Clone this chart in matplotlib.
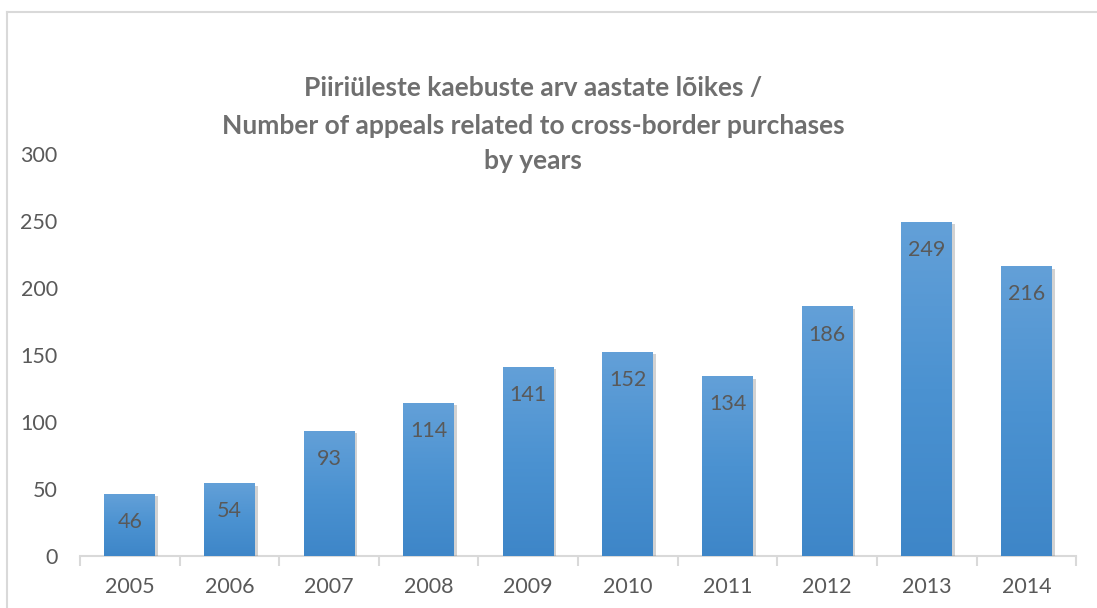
import numpy as np
import matplotlib
matplotlib.use("Agg")
import matplotlib.pyplot as plt
import matplotlib.patheffects as pe
from matplotlib.colors import LinearSegmentedColormap
from matplotlib.lines import Line2D

# Data
years = ["2005", "2006", "2007", "2008", "2009", "2010", "2011", "2012", "2013", "2014"]
appeals = [46, 54, 93, 114, 141, 152, 134, 186, 249, 216]
y_ticks = [0, 50, 100, 150, 200, 250, 300]
title_lines = [
    "Piiriüleste kaebuste arv aastate lõikes /",
    "Number of appeals related to cross-border purchases",
    "by years",
]

TEXT = "#595959"
AXIS = "#d9d9d9"
plt.rcParams["font.family"] = ["Lato", "DejaVu Sans"]

fig = plt.figure(figsize=(10.97, 6.08), dpi=100)
ax = fig.add_axes([0.0729, 0.0855, 0.9081, 0.6612])

x = np.arange(len(years))
width = 0.51

# bars with soft shadow
bars = ax.bar(x, appeals, width=width, color="#4f94d2", zorder=2)
for b in bars:
    b.set_path_effects([pe.SimplePatchShadow(offset=(2, -1.5), shadow_rgbFace="#808080", alpha=0.35),
                        pe.Normal()])

# vertical gradient on each bar (light top, darker bottom)
grad_cmap = LinearSegmentedColormap.from_list("bar", ["#3e86c8", "#4b92d1", "#63a0d8"])
grad = np.linspace(0, 1, 256).reshape(-1, 1)
for b in bars:
    ax.imshow(grad, cmap=grad_cmap, origin="lower", aspect="auto", zorder=3,
              extent=[b.get_x(), b.get_x() + b.get_width(), 0, b.get_height()])

# value labels inside bars
for xi, v in zip(x, appeals):
    ax.annotate(str(v), (xi, v), xytext=(0, -20), textcoords="offset points",
                ha="center", va="center", fontsize=15.5, color=TEXT, zorder=4)

ax.set_xlim(-0.5, len(years) - 0.5)
ax.set_ylim(0, 300)
ax.set_yticks(y_ticks)
ax.set_xticks(x)
ax.set_xticklabels(years)
ax.set_xticks(np.arange(-0.5, len(years)), minor=True)

for s in ["top", "right", "left"]:
    ax.spines[s].set_visible(False)
ax.spines["bottom"].set_color(AXIS)
ax.spines["bottom"].set_linewidth(1.5)
ax.spines["bottom"].set_zorder(1)

ax.tick_params(axis="y", length=0, pad=16, labelsize=15.5, labelcolor=TEXT)
ax.tick_params(axis="x", which="major", length=0, pad=15, labelsize=15.5, labelcolor=TEXT)
ax.tick_params(axis="x", which="minor", length=7, width=1.5, color=AXIS)

# title
title_y = [0.855, 0.792, 0.735]
for line, ty in zip(title_lines, title_y):
    fig.text(0.486, ty, line, ha="center", va="center", fontsize=19,
             fontweight="bold", color="#6f6f6f")

# chart frame (left and top edges visible)
fig.add_artist(Line2D([0.0064, 0.0064], [0, 0.98], transform=fig.transFigure,
                      color=AXIS, linewidth=1.5))
fig.add_artist(Line2D([0.0064, 1.0], [0.98, 0.98], transform=fig.transFigure,
                      color=AXIS, linewidth=1.5))

fig.savefig("out.png", dpi=100)
